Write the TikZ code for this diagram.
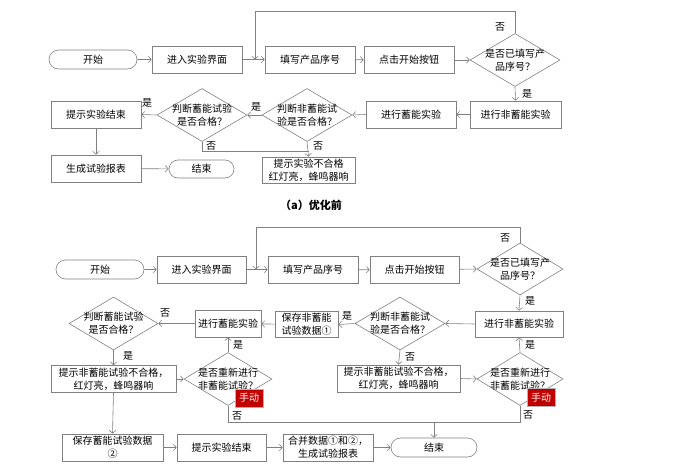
\documentclass[tikz,border=0pt]{standalone}
\usepackage{fontspec}
\setmainfont{Noto Sans CJK SC}
\usetikzlibrary{arrows.meta,shapes.geometric,shapes.misc}
\definecolor{linegray}{RGB}{128,128,128}
\definecolor{manualred}{RGB}{192,0,0}
\tikzset{
  box/.style={draw=linegray,align=center,minimum height=27pt,inner sep=1pt},
  term/.style={draw=linegray,rounded rectangle,minimum height=19pt,inner sep=1pt},
  dec/.style={draw=linegray,diamond,minimum width=90pt,minimum height=53pt,inner sep=-12pt,align=center},
  manual/.style={fill=manualred,draw=linegray!60,text=white,minimum width=28pt,minimum height=18pt,inner sep=0pt},
  lbl/.style={inner sep=0pt},
  arr/.style={draw=linegray,->},
  link/.style={draw=linegray}
}
\begin{document}
\begin{tikzpicture}[x=1pt,y=-1pt,>={Straight Barb[length=3pt,width=6.5pt]},font=\fontsize{10}{13}\selectfont,line width=.6pt]
  \useasboundingbox (0,0) rectangle (678,474);
  % (a)
  \node[term,minimum width=90pt] (startA) at (93,59.5) {开始};
  \node[box,minimum width=90pt] (enterA) at (197,59.5) {进入实验界面};
  \node[box,minimum width=90pt] (fillA) at (310,59.5) {填写产品序号};
  \node[box,minimum width=90pt] (clickA) at (409,60) {点击开始按钮};
  \node[dec] (chkA) at (515,60) {是否已填写产\\品序号？};
  \node[box,minimum width=91pt] (nonA) at (515.5,114.5) {进行非蓄能实验};
  \node[box,minimum width=90pt] (storA) at (411,114.5) {进行蓄能实验};
  \node[dec] (judNA) at (307,115) {判断非蓄能试\\验是否合格？};
  \node[dec] (judSA) at (202,115) {判断蓄能试验\\是否合格？};
  \node[box,minimum width=90pt] (tipA) at (96,114.5) {提示实验结束};
  \node[box,minimum width=90pt] (repA) at (96,168.5) {生成试验报表};
  \node[term,minimum width=67pt,minimum height=18pt] (endA) at (201.5,169) {结束};
  \node[box,minimum width=93pt,minimum height=26pt] (failA) at (308.5,170) {提示实验不合格\\红灯亮，蜂鸣器响};
  \coordinate (loopA) at (255,59.5);
  \coordinate (joinA) at (failA.north |- 0,151);
  \draw[arr] (startA) -- (enterA);
  \draw[arr] (enterA) -- (fillA);
  \draw[arr] (fillA) -- (clickA);
  \draw[arr] (clickA) -- (chkA.west);
  \draw[arr] (chkA.north) -- ++(0,-22) -| (loopA);
  \draw[arr] (chkA.south) -- (nonA.north);
  \draw[arr] (nonA) -- (storA);
  \draw[arr] (storA.west) -- (judNA.east);
  \draw[arr] (judNA.west) -- (judSA.east);
  \draw[arr] (judSA.west) -- (tipA.east);
  \draw[arr] (judNA.south) -- (failA.north);
  \draw[link] (judSA.south) |- (joinA);
  \draw[arr] (tipA) -- (repA);
  \draw[arr] (repA) -- (endA);
  \node[lbl] (noA1) at (500,27) {否};
  \node[lbl] (yesA1) at (527,94) {是};
  \node[lbl] (yesA2) at (256,107) {是};
  \node[lbl] (yesA3) at (147,103) {是};
  \node[lbl] (noA2) at (211,146) {否};
  \node[lbl] (noA3) at (318,146) {否};
  \node[font=\bfseries\fontsize{11}{13}\selectfont] (capA) at (311,205) {（a）优化前};
  % (b)
  \node[term,minimum width=90pt] (startB) at (100,269.5) {开始};
  \node[box,minimum width=89pt] (enterB) at (201.5,269.5) {进入实验界面};
  \node[box,minimum width=90pt] (fillB) at (313,269.5) {填写产品序号};
  \node[box,minimum width=89pt] (clickB) at (414.5,270) {点击开始按钮};
  \node[dec,minimum width=86pt,minimum height=52pt] (chkB) at (520,269) {是否已填写产\\品序号？};
  \node[box,minimum width=88pt,minimum height=26pt] (nonB) at (519,324) {进行非蓄能实验};
  \node[dec] (judNB) at (400,323.5) {判断非蓄能试\\验是否合格？};
  \node[box,minimum width=63pt,minimum height=26pt] (saveNB) at (306.5,324.5) {保存非蓄能\\试验数据①};
  \node[box,minimum width=66pt] (storB) at (228,323.5) {进行蓄能实验};
  \node[dec,minimum width=89pt] (judSB) at (113.5,323.5) {判断蓄能试验\\是否合格？};
  \node[box,minimum width=125pt] (failLB) at (113.5,379) {提示非蓄能试验不合格，\\红灯亮，蜂鸣器响};
  \node[dec,minimum width=88pt] (retryLB) at (228,379) {是否重新进行\\非蓄能试验？};
  \node[manual] (manLB) at (249,398) {手动};
  \node[box,minimum width=123pt] (failRB) at (398.5,378.5) {提示非蓄能试验不合格，\\红灯亮，蜂鸣器响};
  \node[dec,minimum width=86pt] (retryRB) at (520,379) {是否重新进行\\非蓄能试验？};
  \node[manual] (manRB) at (541,397.5) {手动};
  \node[box,minimum width=101pt] (saveSB) at (112.5,447.5) {保存蓄能试验数据\\②};
  \node[box,minimum width=89pt] (tipB) at (221.5,447.5) {提示实验结束};
  \node[box,minimum width=90pt] (mergeB) at (328,447.5) {合并数据①和②，\\生成试验报表};
  \node[term,minimum width=88pt] (endB) at (434,447.5) {结束};
  \coordinate (loopB) at (256,269.5);
  \coordinate (joinB) at (endB.north |- 0,422);
  \draw[arr] (startB) -- (enterB);
  \draw[arr] (enterB) -- (fillB);
  \draw[arr] (fillB) -- (clickB);
  \draw[arr] (clickB) -- (chkB.west);
  \draw[arr] (chkB.north) -- ++(0,-15) -| (loopB);
  \draw[arr] (chkB.south) -- (nonB.north);
  \draw[arr] (nonB.west) -- (judNB.east);
  \draw[arr] (judNB.west) -- (saveNB.east);
  \draw[arr] (saveNB) -- (storB);
  \draw[arr] (storB.west) -- (judSB.east);
  \draw[arr] (judSB.south) -- (failLB.north);
  \draw[arr] (failLB.east) -- (retryLB.west);
  \draw[arr] (retryLB.north) -- (storB.south);
  \draw[arr] (judNB.south) -- (failRB.north);
  \draw[arr] (failRB.east) -- (retryRB.west);
  \draw[arr] (retryRB.north) -- (nonB.south);
  \draw[arr] (failLB.south) -- (saveSB.north);
  \draw[arr] (saveSB) -- (tipB);
  \draw[arr] (tipB) -- (mergeB);
  \draw[arr] (mergeB) -- (endB);
  \draw[link] (retryLB.south) |- (joinB);
  \draw[link] (retryRB.south) |- (joinB);
  \draw[arr] (joinB) -- (endB.north);
  \node[lbl] (noB1) at (505,238) {否};
  \node[lbl] (yesB1) at (530,301) {是};
  \node[lbl] (yesB2) at (347,316) {是};
  \node[lbl] (noB2) at (165,313) {否};
  \node[lbl] (yesB3) at (128,356) {是};
  \node[lbl] (yesB4) at (238,345) {是};
  \node[lbl] (noB3) at (410,357) {否};
  \node[lbl] (yesB5) at (530,345) {是};
  \node[lbl] (noB4) at (237,416) {否};
  \node[lbl] (noB5) at (528,415) {否};
\end{tikzpicture}
\end{document}
